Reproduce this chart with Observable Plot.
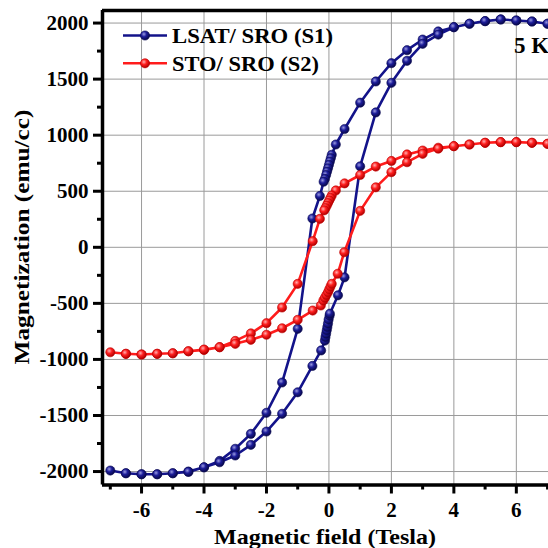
<!DOCTYPE html>
<html><head><meta charset="utf-8">
<script src="https://cdn.jsdelivr.net/npm/d3@7"></script>
<script src="https://cdn.jsdelivr.net/npm/@observablehq/plot@0.6"></script>
<style>body{margin:0;background:#fff;}</style>
</head><body><div id="chart"></div>
<script>
// S1: LSAT/SRO loop (descending branch then ascending branch)
const s1Field = [7,6.5,6,5.5,5,4.5,4,3.5,3,2.5,2,1.5,1,0.5,0.22,0.09,0.06,0.03,0,-0.03,-0.06,-0.09,-0.13,-0.17,-0.29,-0.53,-1,-1.5,-2,-2.5,-3,-3.5,-4,-4.5,-5,-5.5,-6,-6.5,-7,
  -6.5,-6,-5.5,-5,-4.5,-4,-3.5,-3,-2.5,-2,-1.5,-1,-0.53,-0.25,-0.13,-0.11,-0.09,-0.07,-0.05,-0.03,-0.01,0.02,0.03,0.29,0.5,1,1.5,2,2.5,3,3.5,4,4.5,5,5.5,6,6.5,7];
const s1Moment = [1994,2014,2023,2032,2017,1994,1963,1925,1853,1758,1642,1479,1290,1055,917,825,795,765,735,705,675,645,610,585,458,257,-727,-1206,-1476,-1664,-1797,-1905,-1962,-2000,-2015,-2024,-2024,-2015,-1991,
  -2015,-2024,-2024,-2015,-2003,-1962,-1917,-1857,-1762,-1643,-1485,-1293,-1058,-920,-832,-800,-770,-740,-710,-680,-645,-610,-592,-428,-268,722,1203,1467,1663,1815,1897,1963,1994,2017,2032,2023,2014,1994];
// S2: STO/SRO loop
const s2Field = [7,6.5,6,5.5,5,4.5,4,3.5,3,2.5,2,1.5,1,0.5,0.22,0.09,0.05,0.01,-0.03,-0.07,-0.11,-0.15,-0.29,-0.52,-1,-1.5,-2,-2.5,-3,-3.5,-4,-4.5,-5,-5.5,-6,-6.5,-7,
  -6.5,-6,-5.5,-5,-4.5,-4,-3.5,-3,-2.5,-2,-1.5,-1,-0.52,-0.26,-0.18,-0.13,-0.08,-0.03,0.01,0.05,0.09,0.28,0.49,1,1.5,2,2.5,3,3.5,4,4.5,5,5.5,6,6.5,7];
const s2Moment = [923,932,938,938,932,917,902,888,863,828,770,720,645,570,507,462,440,418,395,372,350,330,254,55,-326,-537,-677,-768,-835,-891,-915,-927,-945,-950,-956,-950,-936,
  -950,-956,-950,-945,-927,-912,-891,-861,-825,-780,-722,-647,-564,-519,-475,-450,-425,-400,-375,-350,-326,-236,-44,325,535,670,759,834,880,902,917,932,938,938,932,923];

const seriesNames = ["LSAT/ SRO (S1)", "STO/ SRO (S2)"];
const seriesColors = ["#13138a", "#ff1c1c"];
const xMajorTicks = [-6,-4,-2,0,2,4,6];
const xMinorTicks = [-7,-5,-3,-1,1,3,5,7];
const yMajorTicks = [-2000,-1500,-1000,-500,0,500,1000,1500,2000];
const yMinorTicks = [-1750,-1250,-750,-250,250,750,1250,1750];
const xDomain = [-7.25, 7.03];
const yDomain = [-2120, 2112];
const tempLabel = "5 K";

const s1 = s1Field.map((h,i)=>({h, m:s1Moment[i]}));
const s2 = s2Field.map((h,i)=>({h, m:s2Moment[i]}));

const font = "'Liberation Serif', 'Times New Roman', serif";
const plot = Plot.plot({
  width: 548, height: 548,
  marginLeft: 102, marginRight: 0, marginTop: 10, marginBottom: 63.5,
  style: {fontFamily: font, fontWeight: "bold", fontSize: "20px", background: "#fff", color: "#000"},
  x: {domain: xDomain},
  y: {domain: yDomain},
  marks: [
    Plot.gridX(xMajorTicks, {stroke: "#9a9a9a", strokeOpacity: 1, strokeWidth: 1}),
    Plot.gridY(yMajorTicks, {stroke: "#9a9a9a", strokeOpacity: 1, strokeWidth: 1}),
    Plot.line(s1, {x: "h", y: "m", stroke: seriesColors[0], strokeWidth: 2.6}),
    Plot.dot(s1, {x: "h", y: "m", r: 4.6, fill: "url(#gBlue)", stroke: "#0a0a55", strokeWidth: 0.6}),
    Plot.line(s2, {x: "h", y: "m", stroke: seriesColors[1], strokeWidth: 2.6}),
    Plot.dot(s2, {x: "h", y: "m", r: 4.6, fill: "url(#gRed)", stroke: "#c00000", strokeWidth: 0.6}),
    Plot.axisY(yMinorTicks, {tickSize: 5, tickFormat: () => "", strokeWidth: 3, label: null}),
    Plot.axisY(yMajorTicks, {tickSize: 9, tickPadding: 5, strokeWidth: 3, label: null, tickFormat: d => String(d), fontSize: 21}),
    Plot.axisX(xMinorTicks, {tickSize: 5, tickFormat: () => "", strokeWidth: 3, label: null}),
    Plot.axisX(xMajorTicks, {tickSize: 9, tickPadding: 8, strokeWidth: 3, label: null, tickFormat: d => String(d), fontSize: 21}),
    Plot.ruleX([xDomain[0]], {stroke: "#000", strokeWidth: 3.5}),
    Plot.ruleY([yDomain[0]], {stroke: "#000", strokeWidth: 3.5}),
    Plot.ruleY([yDomain[1]], {stroke: "#000", strokeWidth: 3.5})
  ]
});

const svg = d3.select(plot);
const defs = svg.insert("defs", ":first-child");
function grad(id, light, base, dark) {
  const g = defs.append("radialGradient").attr("id", id).attr("cx", "38%").attr("cy", "35%").attr("r", "65%");
  g.append("stop").attr("offset", "0%").attr("stop-color", light);
  g.append("stop").attr("offset", "45%").attr("stop-color", base);
  g.append("stop").attr("offset", "100%").attr("stop-color", dark);
}
grad("gBlue", "#9a9ae0", "#1c1c99", "#08084a");
grad("gRed", "#ffb0b0", "#ff2020", "#b00000");

// Legend
const legendWidths = [161, 147];
const leg = svg.append("g").attr("font-family", font).attr("font-weight", "bold").attr("font-size", "21px").attr("text-anchor", "start");
seriesNames.forEach((name, i) => {
  const y = 35.5 + i * 27.8;
  leg.append("line").attr("x1", 123).attr("x2", 167).attr("y1", y).attr("y2", y)
    .attr("stroke", seriesColors[i]).attr("stroke-width", 2.6);
  leg.append("circle").attr("cx", 145).attr("cy", y).attr("r", 4.6)
    .attr("fill", i === 0 ? "url(#gBlue)" : "url(#gRed)").attr("stroke", i === 0 ? "#0a0a55" : "#c00000").attr("stroke-width", 0.6);
  leg.append("text").attr("x", 172).attr("y", y + 7.5).attr("fill", "#000")
    .attr("textLength", legendWidths[i]).attr("lengthAdjust", "spacingAndGlyphs").text(name);
});
svg.append("text").attr("x", 514).attr("y", 53).attr("text-anchor", "start").attr("font-family", font).attr("font-weight", "bold")
  .attr("font-size", "23px").attr("fill", "#000").text(tempLabel);
// Axis titles
svg.append("text").attr("transform", "translate(29,237) rotate(-90)").attr("text-anchor", "middle")
  .attr("font-family", font).attr("font-weight", "bold").attr("font-size", "21px").attr("fill", "#000")
  .attr("textLength", 255).attr("lengthAdjust", "spacingAndGlyphs")
  .text("Magnetization (emu/cc)");
svg.append("text").attr("x", 325).attr("y", 544).attr("text-anchor", "middle")
  .attr("font-family", font).attr("font-weight", "bold").attr("font-size", "21px").attr("fill", "#000")
  .attr("textLength", 222).attr("lengthAdjust", "spacingAndGlyphs")
  .text("Magnetic field (Tesla)");

document.getElementById("chart").appendChild(plot);
</script>
</body></html>
